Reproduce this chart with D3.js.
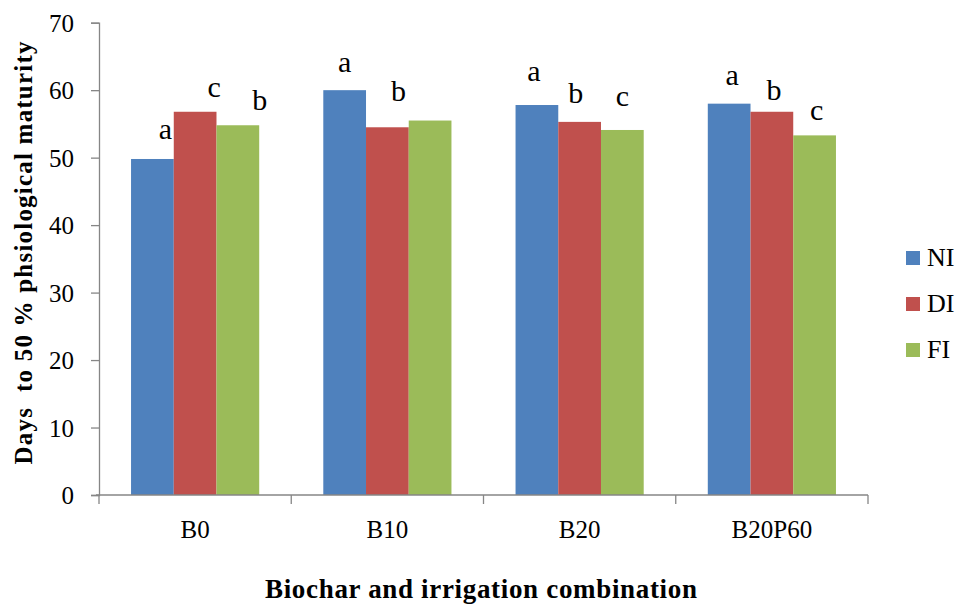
<!DOCTYPE html>
<html>
<head>
<meta charset="utf-8">
<script src="https://cdn.jsdelivr.net/npm/d3@7"></script>
<style>
  html, body { margin: 0; padding: 0; background: #fff; }
  svg { display: block; font-family: "Liberation Serif", "DejaVu Serif", serif; }
</style>
</head>
<body>
<svg id="chart" width="956" height="604"></svg>
<script>
// Treatment combinations on the x axis
const categories = ["B0", "B10", "B20", "B20P60"];
// Irrigation regimes (series)
const seriesNames = ["NI", "DI", "FI"];
// Days to 50 % physiological maturity, one array per irrigation regime
const valuesNI = [49.8, 60.0, 57.8, 58.0];
const valuesDI = [56.8, 54.5, 55.3, 56.8];
const valuesFI = [54.8, 55.5, 54.1, 53.3];
// Mean-separation letters per regime (empty = no letter drawn)
const lettersNI = ["a", "a", "a", "a"];
const lettersDI = ["c", "b", "b", "b"];
const lettersFI = ["b", "", "c", "c"];
// Y axis ticks
const yTicks = [0, 10, 20, 30, 40, 50, 60, 70];

const colors = { NI: "#4F81BD", DI: "#C0504D", FI: "#9BBB59" };
const seriesValues = { NI: valuesNI, DI: valuesDI, FI: valuesFI };
const seriesLetters = { NI: lettersNI, DI: lettersDI, FI: lettersFI };

// Hand nudges for the letter annotations [dx, dy] in px, by regime then category
const letterNudge = {
  NI: [[13, -20], [0, -18], [-3, -24], [3, -19]],
  DI: [[19, -15], [11, -26], [-4, -19], [2, -12]],
  FI: [[22, -15], [0, 0], [0, -24], [2, -15]]
};

const svg = d3.select("#chart");
const plot = { left: 99, right: 868, top: 22.7, bottom: 495 };

const x0 = d3.scaleBand().domain(categories).range([plot.left, plot.right]).padding(0);
const x1 = d3.scaleBand().domain(seriesNames)
  .range([x0.bandwidth() / 6, x0.bandwidth() * 5 / 6]).padding(0);
const y = d3.scaleLinear().domain([0, 70]).range([plot.bottom, plot.top]);

const axisColor = "#868686";

// Bars
const rows = [];
categories.forEach((c, i) => {
  seriesNames.forEach(s => {
    rows.push({ cat: c, i, series: s, value: seriesValues[s][i], letter: seriesLetters[s][i] });
  });
});

svg.append("g").selectAll("rect").data(rows).join("rect")
  .attr("x", d => x0(d.cat) + x1(d.series))
  .attr("width", x1.bandwidth())
  .attr("y", d => y(d.value))
  .attr("height", d => y(0) - y(d.value))
  .attr("fill", d => colors[d.series]);

// Letters
svg.append("g").selectAll("text").data(rows.filter(d => d.letter)).join("text")
  .attr("x", d => x0(d.cat) + x1(d.series) + x1.bandwidth() / 2 + letterNudge[d.series][d.i][0])
  .attr("y", d => y(d.value) + letterNudge[d.series][d.i][1])
  .attr("text-anchor", "middle")
  .attr("font-size", 30)
  .attr("fill", "#000")
  .text(d => d.letter);

// Y axis
const yAxis = d3.axisLeft(y).tickValues(yTicks).tickSize(8).tickPadding(17).tickFormat(d3.format("d"));
const gy = svg.append("g").attr("transform", `translate(${plot.left},0)`).call(yAxis);
gy.select(".domain").attr("stroke", axisColor).attr("stroke-width", 1.3);
gy.selectAll(".tick line").attr("stroke", axisColor).attr("stroke-width", 1.3);
gy.selectAll(".tick text").attr("font-size", 25).attr("fill", "#000")
  .attr("font-family", "'Liberation Serif', serif").attr("dy", "0.34em");

// X axis with ticks at category boundaries
const gx = svg.append("g").attr("transform", `translate(0,${plot.bottom})`);
gx.append("line").attr("x1", plot.left - 3).attr("x2", plot.right)
  .attr("stroke", axisColor).attr("stroke-width", 1.3);
const bounds = categories.map(c => x0(c)).concat([plot.right]);
gx.selectAll("line.tk").data(bounds).join("line").attr("class", "tk")
  .attr("x1", d => d).attr("x2", d => d).attr("y1", 0).attr("y2", 9)
  .attr("stroke", axisColor).attr("stroke-width", 1.3);
gx.selectAll("text").data(categories).join("text")
  .attr("x", d => x0(d) + x0.bandwidth() / 2)
  .attr("y", 43)
  .attr("text-anchor", "middle")
  .attr("font-size", 25)
  .attr("fill", "#000")
  .text(d => d);

// Axis titles
svg.append("text")
  .attr("transform", `translate(32,253) rotate(-90)`)
  .attr("text-anchor", "middle")
  .attr("font-size", 25)
  .attr("font-weight", "bold")
  .attr("fill", "#000")
  .attr("textLength", 423)
  .attr("lengthAdjust", "spacing")
  .attr("xml:space", "preserve")
  .style("white-space", "pre")
  .text("Days  to 50 % phsiological maturity");

svg.append("text")
  .attr("x", 481)
  .attr("y", 598)
  .attr("text-anchor", "middle")
  .attr("font-size", 27)
  .attr("font-weight", "bold")
  .attr("fill", "#000")
  .attr("textLength", 432)
  .attr("lengthAdjust", "spacing")
  .text("Biochar and irrigation combination");

// Legend
const legend = svg.append("g").attr("transform", "translate(906,251)");
const li = legend.selectAll("g").data(seriesNames).join("g")
  .attr("transform", (d, i) => `translate(0,${i * 46})`);
li.append("rect").attr("width", 14).attr("height", 14).attr("fill", d => colors[d]);
li.append("text").attr("x", 21).attr("y", 15).attr("font-size", 26).attr("fill", "#000").text(d => d);
</script>
</body>
</html>
